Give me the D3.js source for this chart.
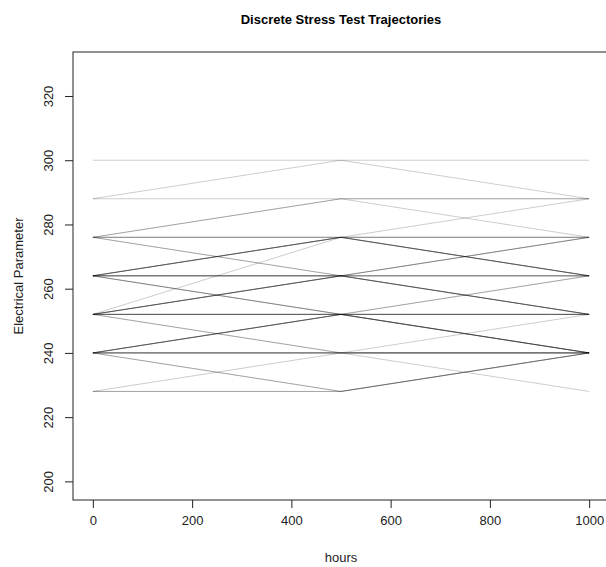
<!DOCTYPE html>
<html>
<head>
<meta charset="utf-8">
<script src="https://cdn.jsdelivr.net/npm/d3@7"></script>
<style>
  body { margin: 0; background: #fff; }
  text { font-family: "Liberation Sans", Arial, sans-serif; fill: #222; }
</style>
</head>
<body>
<div id="chart"></div>
<script>
// measurement times
const hours = [0, 500, 1000];

// one row per unit: parameter value at 0, 500 and 1000 hours
const trajectories = [
  [300, 300, 300], [288, 300, 288],
  [288, 288, 288], [276, 288, 288], [276, 288, 276],
  [252, 276, 288],
  [276, 276, 276], [276, 276, 276], [276, 276, 264],
  [264, 276, 276], [264, 276, 264], [264, 276, 264], [264, 276, 264], [264, 276, 264],
  [276, 264, 276], [276, 264, 252],
  [264, 264, 276], [264, 264, 264], [264, 264, 264], [264, 264, 252], [264, 264, 252],
  [252, 264, 276], [252, 264, 264], [252, 264, 264], [252, 264, 252], [252, 264, 252],
  [264, 252, 264], [264, 252, 240], [264, 252, 240],
  [252, 252, 252], [252, 252, 252], [252, 252, 252], [252, 252, 264], [252, 252, 240],
  [240, 252, 252], [240, 252, 252], [240, 252, 240], [240, 252, 240], [240, 252, 240],
  [252, 240, 240], [252, 240, 240],
  [240, 240, 240], [240, 240, 240], [240, 240, 240], [240, 240, 240], [240, 240, 252],
  [228, 240, 228],
  [240, 228, 240], [240, 228, 240],
  [228, 228, 240], [228, 228, 240]
];

const xTicks = [0, 200, 400, 600, 800, 1000];
const yTicks = [200, 220, 240, 260, 280, 300, 320];

const chartTitle = "Discrete Stress Test Trajectories";
const xTitle = "hours";
const yTitle = "Electrical Parameter";

let config = {
  width: 606,
  height: 567,
  plot: { left: 73, right: 609, top: 52, bottom: 500 },
  lineColor: "#000",
  lineOpacity: 0.2,
  fontSize: 13
};

let svg = d3.select("#chart").append("svg")
  .attr("width", config.width)
  .attr("height", config.height);

// R style: data range padded by 4% on each side
let x = d3.scaleLinear().domain([-40, 1040]).range([config.plot.left, config.plot.right]);
let y = d3.scaleLinear().domain([194.2, 333.7]).range([config.plot.bottom, config.plot.top]);

let line = d3.line()
  .x((d, i) => x(hours[i]))
  .y(d => y(d));

svg.append("g")
  .selectAll("path")
  .data(trajectories)
  .enter()
  .append("path")
  .attr("d", d => line(d))
  .attr("fill", "none")
  .attr("stroke", config.lineColor)
  .attr("stroke-opacity", config.lineOpacity)
  .attr("stroke-width", 1);

// box
svg.append("rect")
  .attr("x", config.plot.left)
  .attr("y", config.plot.top)
  .attr("width", config.plot.right - config.plot.left)
  .attr("height", config.plot.bottom - config.plot.top)
  .attr("fill", "none")
  .attr("stroke", "#222")
  .attr("stroke-width", 1);

// x axis
let xAxis = svg.append("g")
  .attr("transform", `translate(0,${config.plot.bottom})`)
  .call(d3.axisBottom(x).tickValues(xTicks).tickSize(8).tickPadding(8).tickFormat(d3.format("d")));
xAxis.select(".domain").remove();
xAxis.selectAll("line").attr("stroke", "#222");
xAxis.selectAll("text")
  .attr("font-size", config.fontSize)
  .attr("fill", "#222")
  .attr("font-family", "Liberation Sans, Arial, sans-serif");

// y axis, labels turned like R's default las = 0
let yAxis = svg.append("g")
  .attr("transform", `translate(${config.plot.left},0)`)
  .call(d3.axisLeft(y).tickValues(yTicks).tickSize(8).tickFormat(d3.format("d")));
yAxis.select(".domain").remove();
yAxis.selectAll("line").attr("stroke", "#222");
yAxis.selectAll("text")
  .attr("font-size", config.fontSize)
  .attr("fill", "#222")
  .attr("font-family", "Liberation Sans, Arial, sans-serif")
  .attr("x", null)
  .attr("y", null)
  .attr("dy", null)
  .attr("text-anchor", "middle")
  .attr("transform", "translate(-20,0) rotate(-90)");

// titles
svg.append("text")
  .attr("x", (config.plot.left + config.plot.right) / 2)
  .attr("y", 24)
  .attr("text-anchor", "middle")
  .attr("font-size", 13)
  .attr("font-weight", "bold")
  .style("fill", "#000")
  .text(chartTitle);

svg.append("text")
  .attr("x", (config.plot.left + config.plot.right) / 2)
  .attr("y", 562)
  .attr("text-anchor", "middle")
  .attr("font-size", config.fontSize)
  .text(xTitle);

svg.append("text")
  .attr("transform", `translate(23,${(config.plot.top + config.plot.bottom) / 2}) rotate(-90)`)
  .attr("text-anchor", "middle")
  .attr("font-size", config.fontSize)
  .text(yTitle);
</script>
</body>
</html>
